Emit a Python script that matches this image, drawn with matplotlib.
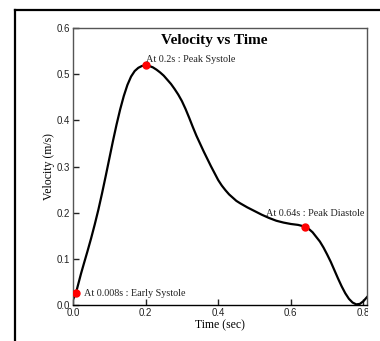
import matplotlib
matplotlib.use('Agg')
import matplotlib.pyplot as plt
from matplotlib.lines import Line2D
from matplotlib.transforms import Bbox, TransformedBbox

# velocity profile
time_s = [0.000, 0.008, 0.015, 0.022, 0.030, 0.040, 0.050, 0.060, 0.070, 0.080,
          0.090, 0.100, 0.110, 0.120, 0.130, 0.140, 0.150, 0.160, 0.170, 0.180,
          0.190, 0.200, 0.210, 0.220, 0.230, 0.240, 0.250, 0.260, 0.270, 0.280,
          0.290, 0.300, 0.310, 0.320, 0.330, 0.340, 0.350, 0.360, 0.370, 0.380,
          0.390, 0.400, 0.410, 0.420, 0.430, 0.440, 0.450, 0.460, 0.480, 0.500,
          0.520, 0.540, 0.560, 0.580, 0.600, 0.620, 0.640, 0.650, 0.660, 0.670,
          0.680, 0.690, 0.700, 0.710, 0.720, 0.730, 0.740, 0.750, 0.760, 0.770,
          0.780, 0.790, 0.800, 0.810]
velocity = [0.012, 0.026, 0.047, 0.068, 0.090, 0.117, 0.145, 0.175, 0.207, 0.242,
            0.279, 0.317, 0.355, 0.391, 0.424, 0.453, 0.477, 0.495, 0.507, 0.514,
            0.518, 0.519, 0.518, 0.515, 0.510, 0.504, 0.497, 0.488, 0.479, 0.468,
            0.456, 0.442, 0.425, 0.406, 0.386, 0.367, 0.350, 0.333, 0.317, 0.301,
            0.286, 0.271, 0.259, 0.249, 0.240, 0.233, 0.226, 0.221, 0.212, 0.204,
            0.196, 0.189, 0.183, 0.179, 0.176, 0.174, 0.170, 0.165, 0.158, 0.148,
            0.138, 0.125, 0.110, 0.094, 0.076, 0.058, 0.041, 0.026, 0.014, 0.006,
            0.002, 0.003, 0.009, 0.018]

mark_t = [0.008, 0.2, 0.64]
mark_v = [0.026, 0.519, 0.170]
mark_labels = ['At 0.008s : Early Systole', 'At 0.2s : Peak Systole', 'At 0.64s : Peak Diastole']

fig = plt.figure(figsize=(3.8, 3.41), dpi=100)
ax = fig.add_axes([0.192, 0.1047, 0.774, 0.813])

ax.plot(time_s, velocity, color='black', linewidth=1.6, solid_joinstyle='round')
ax.plot(mark_t, mark_v, 'o', color='red', markersize=5, zorder=3)

serif = 'Liberation Serif'
# label placements (offset in points, alignment)
offsets = [((6, 0), 'left', 'center'), ((0, 1), 'left', 'bottom'), ((7, 6), 'center', 'bottom')]
for t, v, lab, (off, ha, va) in zip(mark_t, mark_v, mark_labels, offsets):
    ax.annotate(lab, (t, v), xytext=off, textcoords='offset points',
                ha=ha, va=va, fontsize=7.3, family=serif, color='#222222')

ax.text(0.48, 0.955, 'Velocity vs Time', transform=ax.transAxes, ha='center', va='center',
        fontsize=11, fontweight='bold', family=serif)

ax.set_xlim(0, 0.81)
ax.set_ylim(0, 0.6)
ax.set_xticks([0.0, 0.2, 0.4, 0.6, 0.8])
ax.set_yticks([0.0, 0.1, 0.2, 0.3, 0.4, 0.5, 0.6])
ax.set_xticklabels(['0.0', '0.2', '0.4', '0.6', '0.8'])
ax.set_yticklabels(['0.0', '0.1', '0.2', '0.3', '0.4', '0.5', '0.6'])
ax.tick_params(direction='in', length=4, width=1, labelsize=7, colors='#222222', pad=2)
for lbl in ax.get_xticklabels() + ax.get_yticklabels():
    lbl.set_family('Liberation Sans')

ax.set_xlabel('Time (sec)', family=serif, fontsize=8.5, labelpad=1)
ax.set_ylabel('Velocity (m/s)', family=serif, fontsize=8.5, labelpad=1)

for side in ['top', 'right', 'left']:
    ax.spines[side].set_color('#555555')
ax.spines['bottom'].set_color('black')
for sp in ax.spines.values():
    sp.set_linewidth(1)

# last x tick label is cut at the right edge of the plot in the reference
clip = TransformedBbox(Bbox([[0, 0], [368 / 380, 1]]), fig.transFigure)
for lbl in ax.get_xticklabels():
    lbl.set_clip_box(clip)
    lbl.set_clip_on(True)

# outer frame (only left and top edges visible)
fig.add_artist(Line2D([14.5 / 380, 14.5 / 380], [0, 1 - 10 / 341], color='black', linewidth=1.6))
fig.add_artist(Line2D([14.5 / 380, 1], [1 - 10 / 341, 1 - 10 / 341], color='black', linewidth=1.6))

fig.savefig('out.png', dpi=100)
